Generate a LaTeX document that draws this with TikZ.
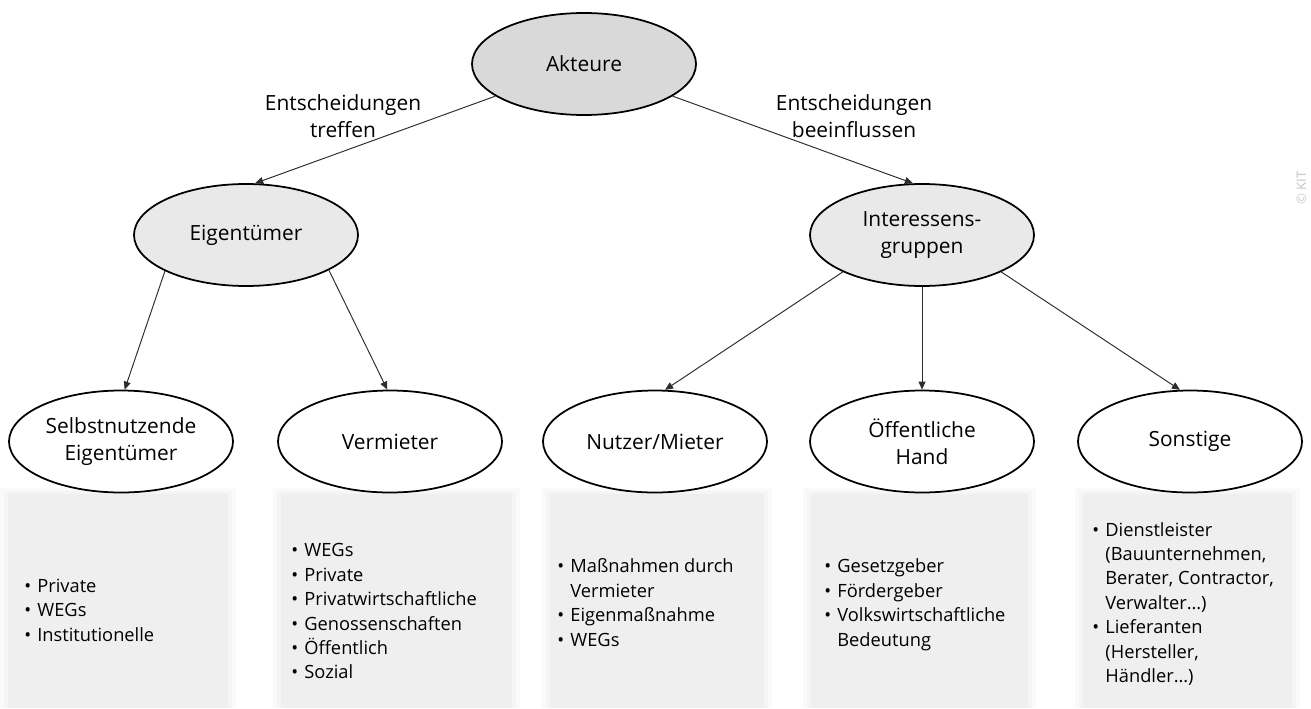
\documentclass[tikz,border=0pt]{standalone}
\usepackage{fontspec}
\setmainfont{Open Sans}
\usepackage{tikz}
\usetikzlibrary{arrows.meta,positioning,shapes.geometric}
\definecolor{topfill}{RGB}{217,217,217}
\definecolor{midfill}{RGB}{233,233,233}
\definecolor{listfill}{RGB}{239,239,239}
\definecolor{linkgray}{RGB}{45,45,45}

\begin{document}
\begin{tikzpicture}[
    actor/.style={ellipse, draw=black, line width=1pt, minimum width=4.48cm,
      minimum height=2.04cm, inner sep=0pt, align=center,
      font=\fontsize{11.9}{15.3}\selectfont},
    link/.style={draw=linkgray, line width=0.55pt, -{Triangle[length=4.6pt,width=4pt]}},
    tag/.style={align=center, font=\fontsize{11.9}{15.3}\selectfont},
    itemlist/.style={anchor=west, inner sep=0pt, font=\fontsize{10.4}{13.9}\selectfont}
  ]
    % Canvas of the reference
    \useasboundingbox (0,0) rectangle (26.22,14.16);
    % Grey fields under the lower ellipses (soft rim + core)
    \foreach \xl/\xr in {0.16/4.56, 5.62/10.24, 11.0/15.28, 16.22/20.56, 21.66/25.84} {
      \fill[listfill!30] (\xl-0.16,0) rectangle (\xr+0.16,4.40);
      \fill[listfill!65] (\xl-0.08,0) rectangle (\xr+0.08,4.34);
      \fill[listfill] (\xl,0) rectangle (\xr,4.28);
    }
    % Top level
    \node[actor, fill=topfill] (akteure) at (11.68,12.88) {Akteure};
    % Second level
    \node[actor, fill=midfill] (eigentuemer) at (4.92,9.46) {Eigentümer};
    \node[actor, fill=midfill] (interessen) at (18.44,9.46) {Interessens-\\gruppen};
    % Third level
    \node[actor, fill=white] (selbst) at (2.42,5.33) {Selbstnutzende\\Eigentümer};
    \node[actor, fill=white] (vermieter) at (7.80,5.33) {Vermieter};
    \node[actor, fill=white] (nutzer) at (13.10,5.33) {Nutzer/Mieter};
    \node[actor, fill=white] (oeffentlich) at (18.44,5.33) {Öffentliche\\Hand};
    \node[actor, fill=white] (sonstige) at (23.80,5.33) {Sonstige};
    % Connectors
    \draw[link] (akteure) -- (eigentuemer.80);
    \draw[link] (akteure) -- (interessen.100);
    \draw[link] (eigentuemer.204) -- (selbst.86);
    \draw[link] (eigentuemer.337) -- (vermieter.93);
    \draw[link] (interessen.205) -- (nutzer.79);
    \draw[link] (interessen.south) -- (oeffentlich.north);
    \draw[link] (interessen.335) -- (sonstige.101);
    % Connector labels
    \node[tag] (treffen) at (6.86,11.83) {Entscheidungen\\treffen};
    \node[tag] (beeinflussen) at (17.08,11.83) {Entscheidungen\\beeinflussen};
    % Lists in the grey fields
    \node[itemlist] (selbstlist) at (0.48,1.92) {\begin{tabular}{@{}l@{\hspace{3.5pt}}l@{}}
      \textbullet & Private\\ \textbullet & WEGs\\ \textbullet & Institutionelle
    \end{tabular}};
    \node[itemlist] (vermieterlist) at (5.82,1.90) {\begin{tabular}{@{}l@{\hspace{3.5pt}}l@{}}
      \textbullet & WEGs\\ \textbullet & Private\\ \textbullet & Privatwirtschaftliche\\
      \textbullet & Genossenschaften\\ \textbullet & Öffentlich\\ \textbullet & Sozial
    \end{tabular}};
    \node[itemlist] (nutzerlist) at (11.14,2.07) {\begin{tabular}{@{}l@{\hspace{3.5pt}}l@{}}
      \textbullet & Maßnahmen durch\\ & Vermieter\\ \textbullet & Eigenmaßnahme\\ \textbullet & WEGs
    \end{tabular}};
    \node[itemlist] (oeffentlichlist) at (16.48,2.07) {\begin{tabular}{@{}l@{\hspace{3.5pt}}l@{}}
      \textbullet & Gesetzgeber\\ \textbullet & Fördergeber\\ \textbullet & Volkswirtschaftliche\\ & Bedeutung
    \end{tabular}};
    \node[itemlist] (sonstigelist) at (21.84,2.07) {\begin{tabular}{@{}l@{\hspace{3.5pt}}l@{}}
      \textbullet & Dienstleister\\ & (Bauunternehmen,\\ & Berater, Contractor,\\ & Verwalter…)\\
      \textbullet & Lieferanten\\ & (Hersteller,\\ & Händler…)
    \end{tabular}};
    % Copyright mark at the right edge
    \node[rotate=90, text=gray!45, inner sep=0pt, font=\fontsize{7.5}{9}\selectfont] (copyright) at (26.03,10.4) {© KIT};
  \end{tikzpicture}
\end{document}
